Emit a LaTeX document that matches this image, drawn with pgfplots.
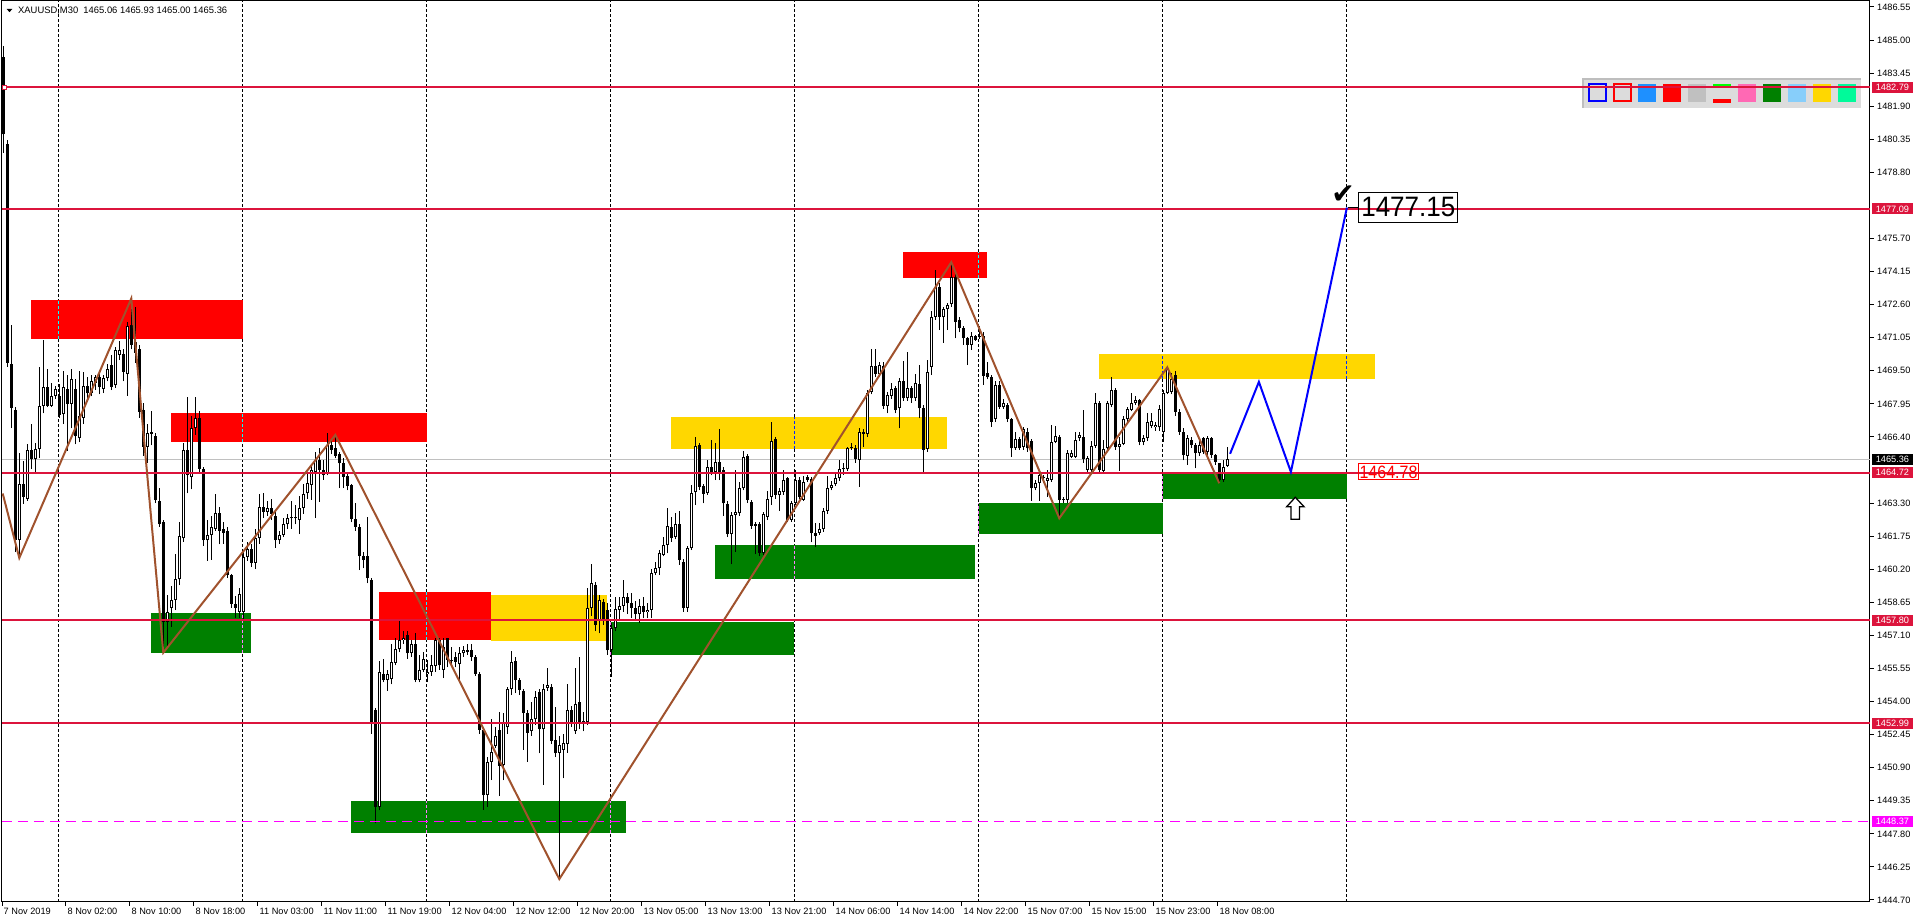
\documentclass[border=0pt]{standalone}
\usepackage{graphicx}
\usepackage{fontspec}
\setmainfont{Liberation Sans}
\newfontfamily\symfont{DejaVu Sans}
\usepackage{pgfplots}
\pgfplotsset{compat=1.18}
\usepackage{pgfplotstable}

\definecolor{crim}{RGB}{220,20,60}
\definecolor{mtred}{RGB}{255,0,0}
\definecolor{mtgreen}{RGB}{0,128,0}
\definecolor{mtgold}{RGB}{255,215,0}
\definecolor{zz}{RGB}{160,82,45}
\definecolor{mag}{RGB}{255,0,255}
\definecolor{panelc}{RGB}{220,220,220}
\definecolor{panelb}{RGB}{190,190,190}
\definecolor{curline}{RGB}{192,192,192}
\definecolor{invred}{RGB}{0,255,255}
\definecolor{invgreen}{RGB}{255,127,255}
\definecolor{invgold}{RGB}{0,40,255}
\definecolor{dodger}{RGB}{30,144,255}
\definecolor{silv}{RGB}{192,192,192}
\definecolor{limec}{RGB}{0,255,0}
\definecolor{hotp}{RGB}{255,105,180}
\definecolor{lsky}{RGB}{135,206,250}
\definecolor{spring}{RGB}{0,250,154}
\definecolor{fblue}{RGB}{0,0,255}

\newcommand{\lbl}{\fontsize{9.2}{10}\selectfont}

\pgfplotstableread{
b o h l c
0 1484.22 1484.70 1479.72 1480.58
1 1480.11 1480.30 1469.70 1469.87
2 1469.81 1471.63 1466.81 1467.77
3 1467.67 1467.80 1461.00 1461.55
4 1461.55 1465.66 1460.73 1464.19
5 1464.19 1465.28 1463.27 1463.60
6 1463.50 1466.08 1463.40 1465.80
7 1465.80 1467.00 1464.90 1465.38
8 1465.38 1466.10 1464.70 1465.85
9 1465.85 1469.68 1465.40 1467.86
10 1467.86 1470.96 1467.50 1468.76
11 1468.76 1469.60 1467.80 1467.86
12 1467.86 1468.95 1467.80 1468.34
13 1468.34 1468.80 1468.20 1468.66
14 1468.30 1468.90 1467.30 1467.42
15 1467.46 1469.50 1467.00 1468.72
16 1468.63 1469.30 1465.76 1467.96
17 1467.96 1469.60 1466.80 1469.11
18 1468.63 1469.10 1466.05 1466.43
19 1466.33 1469.50 1466.14 1467.38
20 1467.30 1469.45 1467.00 1468.78
21 1468.78 1469.20 1468.10 1468.44
22 1468.44 1469.30 1468.30 1469.00
23 1468.95 1469.30 1468.60 1469.20
24 1469.20 1469.40 1468.40 1468.72
25 1468.66 1469.30 1468.45 1469.14
26 1469.14 1469.80 1469.00 1469.60
27 1469.78 1470.25 1468.60 1468.76
28 1468.82 1470.60 1468.70 1470.48
29 1470.25 1470.90 1470.00 1470.48
30 1470.30 1470.50 1469.00 1469.45
31 1469.34 1471.78 1468.34 1471.59
32 1471.63 1472.89 1470.50 1470.73
33 1470.83 1472.50 1469.87 1470.35
34 1470.54 1470.70 1467.30 1467.58
35 1467.67 1468.00 1465.50 1465.95
36 1465.95 1467.00 1465.20 1466.58
37 1466.55 1467.60 1466.00 1466.62
38 1466.46 1466.60 1463.30 1463.46
39 1463.40 1464.00 1462.20 1462.31
40 1462.41 1462.50 1456.29 1457.72
41 1457.72 1459.00 1456.50 1458.20
42 1458.39 1459.40 1457.50 1458.74
43 1458.77 1460.90 1458.30 1459.73
44 1459.73 1462.41 1459.45 1461.74
45 1461.65 1466.10 1461.50 1465.80
46 1465.80 1468.25 1463.75 1464.61
47 1464.50 1467.40 1463.94 1466.81
48 1466.81 1468.25 1466.50 1467.29
49 1467.29 1467.60 1464.70 1464.90
50 1464.90 1465.00 1461.30 1461.55
51 1461.55 1462.50 1460.60 1461.80
52 1461.80 1462.70 1460.65 1462.20
53 1462.10 1463.75 1462.00 1462.83
54 1462.83 1463.10 1461.36 1462.00
55 1462.10 1462.40 1461.40 1461.90
56 1462.00 1462.20 1459.80 1459.92
57 1459.92 1460.00 1458.40 1458.58
58 1458.55 1458.95 1457.90 1458.40
59 1458.20 1459.30 1457.90 1459.06
60 1458.20 1461.00 1457.80 1460.79
61 1460.79 1461.50 1460.60 1461.17
62 1461.17 1461.40 1460.30 1460.50
63 1460.50 1462.10 1460.20 1461.65
64 1461.65 1463.75 1461.40 1463.14
65 1463.14 1463.79 1462.60 1462.89
66 1462.89 1463.40 1462.70 1463.08
67 1463.08 1463.50 1462.50 1462.80
68 1462.70 1463.00 1461.20 1461.55
69 1461.55 1462.00 1461.40 1461.80
70 1461.80 1462.60 1461.70 1462.30
71 1462.30 1462.80 1462.10 1462.60
72 1462.65 1463.40 1462.10 1462.58
73 1462.58 1463.20 1462.30 1462.65
74 1462.50 1463.65 1461.85 1463.08
75 1463.08 1464.20 1462.80 1463.75
76 1463.75 1464.70 1463.50 1464.23
77 1464.15 1465.10 1463.45 1464.85
78 1464.77 1465.70 1462.60 1465.32
79 1465.32 1465.87 1463.37 1464.85
80 1464.85 1465.30 1464.40 1464.60
81 1464.65 1466.60 1464.60 1466.00
82 1466.00 1466.30 1465.60 1465.80
83 1465.87 1466.49 1465.40 1465.51
84 1465.60 1465.70 1464.00 1465.16
85 1465.20 1465.40 1464.00 1464.54
86 1464.57 1464.70 1463.90 1464.10
87 1464.15 1464.20 1462.40 1462.54
88 1462.54 1463.30 1462.00 1462.20
89 1462.20 1462.30 1460.16 1460.82
90 1460.82 1461.00 1460.24 1460.63
91 1460.80 1462.66 1459.54 1459.77
92 1459.70 1459.80 1452.50 1453.06
93 1453.60 1453.70 1448.29 1449.07
94 1449.07 1455.90 1448.90 1455.40
95 1455.30 1456.00 1454.90 1455.00
96 1455.00 1455.50 1454.50 1455.30
97 1455.05 1456.70 1454.80 1455.87
98 1455.82 1456.96 1455.70 1456.45
99 1456.45 1457.79 1456.30 1456.88
100 1456.88 1457.30 1456.70 1457.00
101 1457.12 1457.30 1456.00 1456.26
102 1456.26 1456.90 1456.10 1456.70
103 1456.70 1457.20 1454.90 1455.00
104 1455.00 1456.20 1454.90 1455.50
105 1455.47 1456.30 1455.40 1456.00
106 1455.29 1455.95 1454.90 1455.40
107 1455.40 1456.20 1455.20 1455.70
108 1455.66 1457.00 1455.40 1456.88
109 1456.88 1457.00 1455.50 1455.70
110 1455.50 1457.00 1455.10 1456.57
111 1456.96 1457.00 1455.60 1455.95
112 1455.90 1456.57 1455.60 1455.97
113 1456.07 1456.30 1455.60 1455.87
114 1455.75 1456.57 1454.86 1456.26
115 1456.26 1456.60 1456.10 1456.40
116 1456.40 1456.70 1456.20 1456.30
117 1456.40 1456.70 1455.90 1456.10
118 1456.07 1456.20 1455.20 1455.30
119 1455.30 1455.40 1452.50 1452.67
120 1452.67 1452.80 1448.92 1449.62
121 1449.62 1451.40 1449.07 1451.18
122 1451.18 1453.20 1450.32 1451.65
123 1451.90 1452.80 1451.80 1452.38
124 1452.67 1453.50 1449.57 1451.00
125 1451.03 1453.45 1450.30 1452.98
126 1452.80 1454.70 1452.50 1454.57
127 1454.57 1456.38 1454.30 1455.87
128 1455.91 1456.07 1454.40 1455.00
129 1455.00 1455.10 1454.30 1454.55
130 1454.50 1454.60 1451.73 1453.48
131 1453.48 1453.60 1451.18 1452.54
132 1452.60 1454.00 1452.40 1453.17
133 1453.17 1454.50 1452.90 1454.23
134 1454.46 1454.60 1451.57 1452.70
135 1452.70 1454.80 1450.10 1454.57
136 1454.65 1455.55 1454.50 1454.77
137 1454.70 1454.80 1452.00 1452.17
138 1452.20 1453.76 1451.40 1451.57
139 1451.60 1452.40 1445.68 1451.95
140 1451.73 1452.50 1450.40 1452.07
141 1452.00 1454.80 1451.60 1453.60
142 1453.60 1453.80 1452.80 1453.06
143 1452.60 1455.55 1452.50 1453.90
144 1453.99 1456.10 1452.70 1453.06
145 1453.06 1453.50 1452.60 1453.10
146 1453.06 1459.30 1452.90 1458.37
147 1458.37 1460.45 1458.00 1459.54
148 1459.46 1459.60 1457.30 1457.59
149 1457.80 1459.00 1457.20 1458.76
150 1458.68 1458.80 1457.60 1457.80
151 1458.30 1458.60 1456.20 1456.40
152 1456.42 1457.70 1455.17 1457.43
153 1457.43 1458.90 1457.30 1458.32
154 1458.30 1458.90 1457.80 1458.50
155 1458.50 1459.70 1458.20 1458.90
156 1458.90 1459.10 1458.10 1458.60
157 1458.60 1459.10 1457.90 1458.40
158 1458.40 1458.70 1457.80 1458.10
159 1458.10 1458.80 1457.70 1458.50
160 1458.50 1458.90 1457.90 1458.20
161 1458.20 1458.60 1457.90 1458.30
162 1458.30 1460.20 1457.90 1460.01
163 1460.01 1460.56 1459.93 1460.24
164 1460.24 1461.10 1459.93 1460.94
165 1460.87 1461.73 1460.80 1461.34
166 1461.34 1463.06 1460.94 1462.23
167 1462.20 1462.66 1461.50 1461.65
168 1461.73 1462.82 1461.60 1462.32
169 1462.32 1462.95 1460.40 1460.63
170 1460.56 1460.70 1458.20 1458.40
171 1458.40 1461.30 1458.20 1461.18
172 1461.18 1464.15 1461.10 1463.76
173 1463.80 1466.38 1463.21 1465.98
174 1466.02 1466.10 1463.90 1464.07
175 1464.10 1464.20 1463.29 1463.73
176 1463.76 1465.32 1463.70 1464.98
177 1464.98 1466.26 1464.60 1464.77
178 1464.77 1466.10 1464.38 1465.21
179 1465.21 1466.76 1464.38 1464.77
180 1464.85 1465.00 1462.69 1463.29
181 1463.26 1463.40 1461.70 1461.85
182 1461.85 1462.90 1460.43 1462.74
183 1462.74 1464.85 1461.02 1462.87
184 1462.82 1464.30 1462.70 1463.99
185 1463.99 1465.76 1463.90 1465.44
186 1465.51 1465.60 1463.30 1463.45
187 1463.34 1463.45 1462.10 1462.23
188 1462.32 1462.40 1460.91 1462.23
189 1462.32 1462.40 1460.80 1460.98
190 1460.98 1462.90 1460.85 1462.79
191 1462.66 1463.88 1462.50 1463.48
192 1463.60 1467.09 1463.21 1466.23
193 1466.29 1466.40 1463.50 1463.68
194 1463.68 1464.00 1462.95 1463.88
195 1463.84 1464.85 1463.70 1464.38
196 1464.46 1464.54 1462.40 1462.51
197 1462.51 1463.40 1462.43 1463.29
198 1463.29 1464.85 1463.20 1464.38
199 1464.38 1464.50 1463.50 1463.60
200 1463.45 1464.57 1463.40 1464.27
201 1464.51 1464.62 1464.30 1464.38
202 1464.41 1464.50 1461.46 1461.88
203 1461.88 1462.35 1461.26 1461.76
204 1461.92 1462.35 1461.80 1462.07
205 1462.07 1463.06 1461.95 1462.95
206 1462.95 1464.57 1462.80 1463.99
207 1463.99 1464.35 1463.90 1464.15
208 1464.18 1464.70 1464.10 1464.46
209 1464.46 1465.32 1464.35 1464.88
210 1464.88 1465.16 1464.62 1464.93
211 1464.88 1465.95 1464.80 1465.87
212 1465.87 1466.10 1465.80 1465.95
213 1465.87 1466.00 1465.20 1465.35
214 1465.32 1466.80 1464.07 1466.65
215 1466.65 1466.75 1465.95 1466.54
216 1466.54 1468.60 1466.40 1468.48
217 1468.52 1470.52 1468.40 1469.73
218 1469.73 1470.52 1469.20 1469.35
219 1469.35 1469.90 1469.20 1469.77
220 1469.73 1469.90 1467.70 1467.85
221 1467.85 1468.50 1467.51 1468.37
222 1468.32 1468.91 1468.20 1468.63
223 1468.68 1468.80 1467.50 1467.66
224 1467.74 1469.15 1466.80 1469.04
225 1469.04 1469.96 1468.10 1468.21
226 1468.21 1470.40 1468.10 1468.68
227 1468.68 1468.80 1468.00 1468.21
228 1468.21 1469.35 1468.10 1468.91
229 1468.88 1469.77 1467.27 1467.74
230 1467.74 1467.90 1464.70 1465.79
231 1465.84 1470.00 1465.70 1469.46
232 1469.70 1472.30 1469.30 1472.04
233 1472.04 1474.22 1471.90 1473.44
234 1473.44 1473.60 1471.41 1472.04
235 1472.00 1472.50 1470.82 1472.38
236 1472.38 1472.70 1471.41 1472.58
237 1472.63 1474.58 1472.50 1473.88
238 1473.91 1474.10 1471.02 1471.80
239 1471.88 1472.00 1471.30 1471.49
240 1471.49 1471.60 1470.71 1471.02
241 1471.02 1471.10 1469.77 1470.71
242 1470.71 1471.30 1470.48 1471.13
243 1471.13 1471.20 1470.90 1470.94
244 1471.07 1471.60 1471.00 1471.13
245 1471.13 1471.30 1468.84 1469.27
246 1469.38 1469.93 1469.10 1469.19
247 1469.23 1469.30 1466.88 1467.12
248 1467.23 1469.00 1467.10 1468.84
249 1468.84 1469.00 1467.70 1467.82
250 1467.79 1468.20 1467.70 1468.01
251 1467.90 1468.00 1467.10 1467.23
252 1467.23 1467.30 1465.48 1465.87
253 1465.87 1466.65 1465.80 1466.29
254 1466.29 1466.40 1465.80 1465.87
255 1465.95 1466.88 1465.80 1466.76
256 1466.65 1466.80 1465.70 1465.87
257 1466.23 1466.30 1463.42 1463.99
258 1463.99 1464.40 1463.90 1464.23
259 1464.23 1464.85 1463.42 1464.62
260 1464.54 1464.60 1464.30 1464.46
261 1464.35 1464.85 1463.60 1464.46
262 1464.38 1466.96 1464.30 1466.18
263 1466.18 1466.91 1466.10 1466.45
264 1466.41 1466.50 1462.59 1463.45
265 1463.45 1463.60 1463.30 1463.48
266 1463.45 1465.80 1463.30 1465.66
267 1465.48 1465.80 1465.40 1465.66
268 1465.48 1466.65 1465.40 1466.26
269 1466.33 1466.65 1466.20 1466.49
270 1466.41 1467.66 1465.20 1465.35
271 1464.85 1465.50 1464.70 1465.40
272 1464.85 1466.20 1464.70 1465.98
273 1465.98 1468.48 1465.90 1467.98
274 1467.98 1468.10 1464.70 1464.85
275 1464.82 1466.26 1464.70 1465.82
276 1465.87 1468.10 1465.80 1467.98
277 1467.90 1469.19 1467.80 1468.60
278 1468.60 1468.70 1465.80 1465.91
279 1465.91 1466.41 1464.82 1466.07
280 1466.07 1467.40 1466.00 1467.23
281 1467.23 1467.80 1467.10 1467.69
282 1467.66 1468.44 1467.60 1467.98
283 1467.98 1468.30 1467.90 1468.13
284 1468.13 1468.20 1466.00 1466.18
285 1466.18 1466.50 1466.00 1466.33
286 1466.33 1467.54 1466.20 1467.12
287 1466.91 1467.54 1466.80 1467.15
288 1466.85 1467.10 1466.70 1466.96
289 1466.85 1467.90 1466.70 1467.71
290 1466.65 1468.60 1466.18 1468.48
291 1468.48 1469.66 1468.40 1469.57
292 1468.52 1469.40 1468.40 1469.10
293 1469.30 1469.50 1467.40 1467.58
294 1467.58 1467.70 1466.50 1466.65
295 1466.65 1466.80 1465.30 1465.55
296 1465.51 1466.50 1465.09 1466.33
297 1466.26 1466.40 1465.90 1466.02
298 1466.02 1466.10 1464.93 1465.63
299 1465.63 1466.20 1465.50 1466.02
300 1466.33 1466.41 1465.60 1465.71
301 1465.71 1466.45 1465.50 1466.33
302 1466.33 1466.41 1465.40 1465.55
303 1465.55 1465.60 1465.10 1465.24
304 1465.16 1465.20 1464.23 1464.38
305 1464.38 1465.30 1464.30 1465.01
306 1465.06 1465.93 1465.00 1465.36
}\candles

\pgfplotsset{
  candlebar/.style n args={2}{draw=none, mark=none, forget plot,
    error bars/.cd, y dir=plus, y explicit, error mark=none,
    error mark options={draw=none, fill=none},
    error bar style={draw=#1, solid, line width=#2}},
}

\begin{document}
\begin{tikzpicture}[x=1pt,y=1pt]
\useasboundingbox (0,0) rectangle (1916,923);
% header
\fill[black] (6.7,914) -- (12.3,914) -- (9.5,910.8) -- cycle;
\node[anchor=base west, inner sep=0pt, font=\fontsize{9.4}{10}\selectfont] at (18,909) {XAUUSD,M30\ \ 1465.06 1465.93 1465.00 1465.36};
% object palette
\fill[panelc] (1582,815) rectangle (1861,845);
\fill[panelb] (1582,843) rectangle (1861,845);
\fill[panelb] (1582,815) rectangle (1584,845);
\draw[fblue, line width=2pt] (1588.7,821.7) rectangle (1605.7,838.7);
\draw[mtred, line width=2pt] (1613.7,821.7) rectangle (1630.7,838.7);
\fill[dodger] (1638,821.3) rectangle (1656,839);
\fill[mtred] (1663,821.3) rectangle (1681,839);
\fill[silv] (1688,821.3) rectangle (1706,839);
\fill[limec] (1713,837) rectangle (1731,839);
\fill[mtred] (1713,820) rectangle (1731,824);
\fill[hotp] (1738,821.3) rectangle (1756,839);
\fill[mtgreen] (1763,821.3) rectangle (1781,839);
\fill[lsky] (1788,821.3) rectangle (1806,839);
\fill[mtgold] (1813,821.3) rectangle (1831,839);
\fill[spring] (1838,821.3) rectangle (1856,839);

\begin{axis}[
  at={(2pt,21pt)}, anchor=south west,
  scale only axis, width=1868pt, height=901pt,
  xmin=-0.325, xmax=466.675, ymin=1444.606, ymax=1486.831,
  clip=false,
  axis line style={black, line width=1pt},
  xtick pos=left, ytick pos=right, yticklabel pos=right,
  tick align=outside, major tick length=4pt,
  tick style={black, line width=1pt},
  xtick={-0.32,15.67,31.67,47.67,63.67,79.67,95.67,111.67,127.67,143.67,159.67,175.67,191.67,207.67,223.67,239.67,255.67,271.67,287.67,303.67},
  xticklabels={7 Nov 2019,8 Nov 02:00,8 Nov 10:00,8 Nov 18:00,11 Nov 03:00,11 Nov 11:00,11 Nov 19:00,12 Nov 04:00,12 Nov 12:00,12 Nov 20:00,13 Nov 05:00,13 Nov 13:00,13 Nov 21:00,14 Nov 06:00,14 Nov 14:00,14 Nov 22:00,15 Nov 07:00,15 Nov 15:00,15 Nov 23:00,18 Nov 08:00},
  ytick={1444.70,1446.25,1447.80,1449.35,1450.90,1452.45,1454.00,1455.55,1457.10,1458.65,1460.20,1461.75,1463.30,1466.40,1467.95,1469.50,1471.05,1472.60,1474.15,1475.70,1478.80,1480.35,1481.90,1483.45,1485.00,1486.55},
  yticklabels={1444.70,1446.25,1447.80,1449.35,1450.90,1452.45,1454.00,1455.55,1457.10,1458.65,1460.20,1461.75,1463.30,1466.40,1467.95,1469.50,1471.05,1472.60,1474.15,1475.70,1478.80,1480.35,1481.90,1483.45,1485.00,1486.55},
  xticklabel style={anchor=north west, inner sep=0pt, xshift=1.5pt, yshift=-2pt, font=\lbl},
  yticklabel style={anchor=west, inner sep=0pt, xshift=3pt, font=\lbl},
]
% day separators
\pgfplotsinvokeforeach{13.9,59.9,105.9,151.9,197.9,243.9,289.9,335.9}{
  \addplot[black, line width=1pt, dash pattern=on 3pt off 2pt] coordinates {(#1,1444.606) (#1,1486.831)};
}
% rectangles
\addplot[draw=none, fill=mtred] coordinates {(6.93,1470.97) (59.93,1470.97) (59.93,1472.82) (6.93,1472.82)};
\addplot[draw=none, fill=mtred] coordinates {(41.9,1466.18) (105.9,1466.18) (105.9,1467.52) (41.9,1467.52)};
\addplot[draw=none, fill=mtgreen] coordinates {(36.9,1456.29) (61.85,1456.29) (61.85,1458.15) (36.9,1458.15)};
\addplot[draw=none, fill=mtred] coordinates {(93.9,1456.88) (121.85,1456.88) (121.85,1459.13) (93.9,1459.13)};
\addplot[draw=none, fill=mtgold] coordinates {(121.85,1456.84) (150.85,1456.84) (150.85,1458.99) (121.85,1458.99)};
\addplot[draw=none, fill=mtgreen] coordinates {(86.9,1447.85) (155.7,1447.85) (155.7,1449.34) (86.9,1449.34)};
\addplot[draw=none, fill=mtgreen] coordinates {(151.9,1456.18) (197.7,1456.18) (197.7,1457.73) (151.9,1457.73)};
\addplot[draw=none, fill=mtgold] coordinates {(166.9,1465.83) (235.9,1465.83) (235.9,1467.33) (166.9,1467.33)};
\addplot[draw=none, fill=mtgreen] coordinates {(177.9,1459.74) (242.9,1459.74) (242.9,1461.34) (177.9,1461.34)};
\addplot[draw=none, fill=mtred] coordinates {(224.9,1473.86) (245.9,1473.86) (245.9,1475.07) (224.9,1475.07)};
\addplot[draw=none, fill=mtgold] coordinates {(273.9,1469.13) (342.9,1469.13) (342.9,1470.29) (273.9,1470.29)};
\addplot[draw=none, fill=mtgreen] coordinates {(243.9,1461.85) (289.9,1461.85) (289.9,1463.30) (243.9,1463.30)};
\addplot[draw=none, fill=mtgreen] coordinates {(289.9,1463.49) (335.85,1463.49) (335.85,1464.76) (289.9,1464.76)};
% separators seen through the rectangles
\addplot[invred, line width=1pt, dash pattern=on 3pt off 2pt] coordinates {(13.9,1470.97) (13.9,1472.82)};
\addplot[invred, line width=1pt, dash pattern=on 3pt off 2pt] coordinates {(59.9,1466.18) (59.9,1467.52)};
\addplot[invgreen, line width=1pt, dash pattern=on 3pt off 2pt] coordinates {(59.9,1456.29) (59.9,1458.15)};
\addplot[invred, line width=1pt, dash pattern=on 3pt off 2pt] coordinates {(105.9,1456.88) (105.9,1459.13)};
\addplot[invgreen, line width=1pt, dash pattern=on 3pt off 2pt] coordinates {(105.9,1447.85) (105.9,1449.34)};
\addplot[invgreen, line width=1pt, dash pattern=on 3pt off 2pt] coordinates {(151.9,1447.85) (151.9,1449.34)};
\addplot[invgreen, line width=1pt, dash pattern=on 3pt off 2pt] coordinates {(151.9,1456.18) (151.9,1457.73)};
\addplot[invgold, line width=1pt, dash pattern=on 3pt off 2pt] coordinates {(197.9,1465.83) (197.9,1467.33)};
\addplot[invgreen, line width=1pt, dash pattern=on 3pt off 2pt] coordinates {(197.9,1459.74) (197.9,1461.34)};
\addplot[invred, line width=1pt, dash pattern=on 3pt off 2pt] coordinates {(243.9,1473.86) (243.9,1475.07)};
\addplot[invgreen, line width=1pt, dash pattern=on 3pt off 2pt] coordinates {(243.9,1461.85) (243.9,1463.30)};
\addplot[invgold, line width=1pt, dash pattern=on 3pt off 2pt] coordinates {(289.9,1469.13) (289.9,1470.29)};
\addplot[invgold, line width=1pt, dash pattern=on 3pt off 2pt] coordinates {(335.9,1469.13) (335.9,1470.29)};
\addplot[invgreen, line width=1pt, dash pattern=on 3pt off 2pt] coordinates {(289.9,1463.49) (289.9,1464.76)};
% current price line
\addplot[curline, line width=1pt] coordinates {(-0.325,1465.36) (466.675,1465.36)};
% candles: wicks, bodies, hollow bull bodies
\addplot[candlebar={black}{1pt}]
  table[x=b, y=l, y error plus expr={\thisrow{h}-\thisrow{l}}] {\candles};
\addplot[candlebar={black}{3pt}]
  table[x=b, y expr={min(\thisrow{o},\thisrow{c})}, y error plus expr={max(abs(\thisrow{c}-\thisrow{o}),0.047)}] {\candles};
\addplot[candlebar={white}{1pt}]
  table[x=b, y expr={\thisrow{o}+0.047}, y error plus expr={max(\thisrow{c}-\thisrow{o}-0.094,0)}] {\candles};
% horizontal levels
\addplot[crim, line width=2pt] coordinates {(-0.325,1482.79) (466.675,1482.79)};
\addplot[crim, line width=2pt] coordinates {(-0.325,1477.09) (466.675,1477.09)};
\addplot[crim, line width=2pt] coordinates {(-0.325,1464.72) (466.675,1464.72)};
\addplot[crim, line width=2pt] coordinates {(-0.325,1457.80) (466.675,1457.80)};
\addplot[crim, line width=2pt] coordinates {(-0.325,1452.99) (466.675,1452.99)};
\addplot[mag, line width=1.3pt, dash pattern=on 10pt off 6pt] coordinates {(-0.325,1448.37) (466.675,1448.37)};
\addplot[crim, only marks, mark=square*, mark size=2pt, mark options={fill=white, line width=1pt}] coordinates {(0.35,1482.79)};
% zigzag
\addplot[zz, line width=2pt] coordinates {(-0.15,1463.75) (4,1460.73) (32,1472.89) (40,1456.29) (83,1466.49) (139,1445.68) (237,1474.59) (264,1462.59) (291,1469.66) (304,1464.23)};
% projected path
\addplot[fblue, line width=2pt] coordinates {(306.7,1465.61) (313.9,1468.98) (321.9,1464.76) (335.9,1477.15)};
% price labels at right
\node[fill=crim, text=white, anchor=west, inner sep=0pt, minimum height=11pt, minimum width=41.5pt, font=\lbl, xshift=1.5pt] at (axis cs:466.675,1482.79) {1482.79};
\node[fill=crim, text=white, anchor=west, inner sep=0pt, minimum height=11pt, minimum width=41.5pt, font=\lbl, xshift=1.5pt] at (axis cs:466.675,1477.09) {1477.09};
\node[fill=black, text=white, anchor=west, inner sep=0pt, minimum height=11pt, minimum width=41.5pt, font=\lbl, xshift=1.5pt] at (axis cs:466.675,1465.36) {1465.36};
\node[fill=crim, text=white, anchor=west, inner sep=0pt, minimum height=11pt, minimum width=41.5pt, font=\lbl, xshift=1.5pt] at (axis cs:466.675,1464.72) {1464.72};
\node[fill=crim, text=white, anchor=west, inner sep=0pt, minimum height=11pt, minimum width=41.5pt, font=\lbl, xshift=1.5pt] at (axis cs:466.675,1457.80) {1457.80};
\node[fill=crim, text=white, anchor=west, inner sep=0pt, minimum height=11pt, minimum width=41.5pt, font=\lbl, xshift=1.5pt] at (axis cs:466.675,1452.99) {1452.99};
\node[fill=mag, text=white, anchor=west, inner sep=0pt, minimum height=11pt, minimum width=41.5pt, font=\lbl, xshift=1.5pt] at (axis cs:466.675,1448.37) {1448.37};
\end{axis}
% annotations
\draw[black, line width=1pt] (1348,715.3) -- (1358,715.3);
\draw[black, line width=1pt] (1358.5,700.2) rectangle (1457.5,730.8);
\node[anchor=base, inner sep=0pt, font=\fontsize{26}{28}\selectfont] at (1408.3,706.3) {\scalebox{1}[1.08]{1477.15}};
\node[anchor=base, inner sep=0pt, font=\symfont\fontsize{28}{30}\selectfont] at (1343,719.5) {✔};
\draw[mtred, line width=1pt] (1358.5,443.5) rectangle (1418.5,459.8);
\node[anchor=base, inner sep=0pt, text=mtred, font=\fontsize{16}{18}\selectfont] at (1388.5,444.9) {\scalebox{1}[1.12]{1464.78}};
\draw[black, line width=1.3pt, fill=white] (1295.3,425.7) -- (1286.7,416.3) -- (1291,416.3) -- (1291,403.7) -- (1299.5,403.7) -- (1299.5,416.3) -- (1304,416.3) -- cycle;
\end{tikzpicture}
\end{document}
